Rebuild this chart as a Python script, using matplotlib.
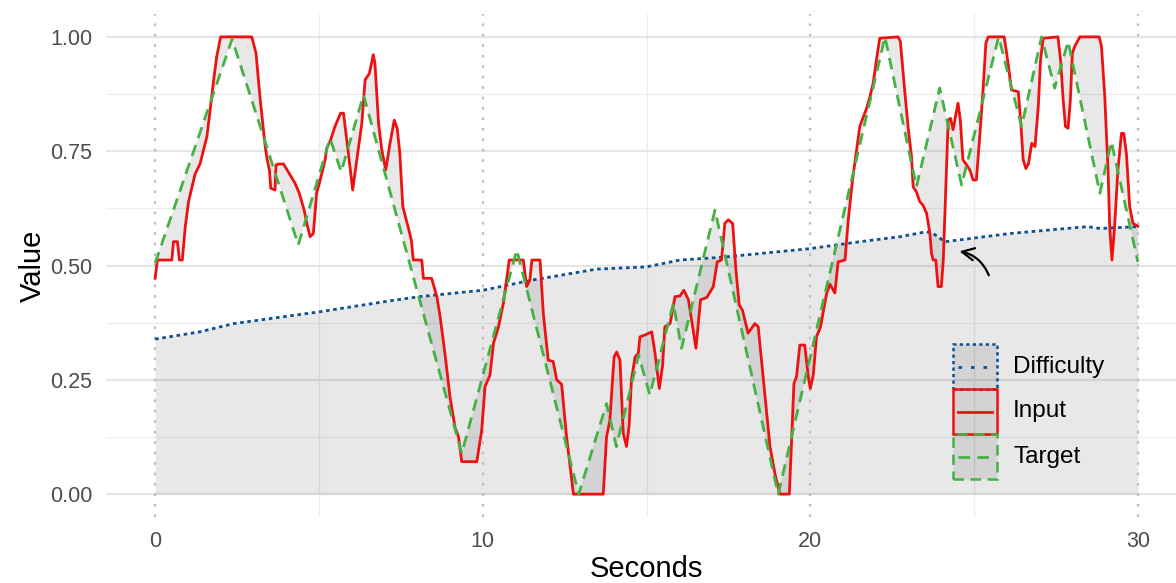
import numpy as np
import matplotlib
matplotlib.use("Agg")
import matplotlib.pyplot as plt
from matplotlib.patches import Rectangle
from matplotlib.lines import Line2D

plt.rcParams["font.family"] = ["Liberation Sans", "DejaVu Sans"]

# ---- data ----
# Target: piecewise linear reference signal
target_x = [0.0, 2.35, 4.37, 5.34, 5.68, 6.36, 9.36, 11.04, 12.93, 13.78,
            14.08, 14.76, 15.1, 15.82, 16.07, 17.09, 19.02, 22.28, 23.24, 23.95,
            24.62, 25.75, 26.45, 27.06, 27.46, 27.87, 28.84, 29.19, 30.0]
target_y = [0.505, 0.995, 0.545, 0.778, 0.705, 0.873, 0.089, 0.534, 0.0, 0.198,
            0.104, 0.304, 0.217, 0.417, 0.319, 0.621, 0.0, 1.0, 0.672, 0.888,
            0.676, 1.0, 0.804, 1.0, 0.888, 0.99, 0.658, 0.771, 0.508]

# Input: recorded response
input_x = [0.0, 0.07, 0.51, 0.56, 0.68, 0.74, 0.83, 0.92, 1.02, 1.22,
           1.37, 1.58, 1.68, 1.78, 1.88, 2.0, 2.95, 3.08, 3.2, 3.36,
           3.41, 3.49, 3.53, 3.66, 3.69, 3.76, 3.92, 4.12, 4.27, 4.4,
           4.55, 4.63, 4.73, 4.83, 4.93, 5.04, 5.19, 5.24, 5.34, 5.49,
           5.66, 5.75, 5.9, 6.03, 6.2, 6.31, 6.41, 6.54, 6.66, 6.71,
           6.82, 6.92, 7.04, 7.17, 7.3, 7.39, 7.47, 7.56, 7.72, 7.82,
           7.88, 8.14, 8.19, 8.44, 8.6, 8.7, 8.86, 9.0, 9.16, 9.26,
           9.36, 9.82, 9.97, 10.07, 10.22, 10.33, 10.48, 10.63, 10.81, 11.24,
           11.34, 11.44, 11.5, 11.75, 11.85, 12.0, 12.15, 12.26, 12.41, 12.56,
           12.77, 13.68, 13.78, 13.88, 14.01, 14.09, 14.19, 14.29, 14.39, 14.47,
           14.54, 14.65, 14.75, 14.8, 14.95, 15.16, 15.26, 15.39, 15.49, 15.56,
           15.72, 15.87, 16.02, 16.14, 16.28, 16.51, 16.65, 16.84, 17.04, 17.16,
           17.29, 17.39, 17.5, 17.63, 17.73, 17.83, 17.93, 18.1, 18.31, 18.41,
           18.77, 18.92, 19.07, 19.36, 19.43, 19.5, 19.58, 19.68, 19.83, 19.94,
           20.0, 20.09, 20.19, 20.31, 20.5, 20.6, 20.75, 20.85, 21.06, 21.16,
           21.29, 21.51, 21.72, 21.82, 21.92, 22.02, 22.12, 22.68, 22.75, 22.88,
           22.99, 23.09, 23.14, 23.24, 23.34, 23.44, 23.55, 23.65, 23.7, 23.75,
           23.83, 23.9, 24.0, 24.06, 24.14, 24.21, 24.28, 24.36, 24.43, 24.51,
           24.58, 24.66, 24.77, 24.87, 24.97, 25.07, 25.18, 25.28, 25.36, 25.43,
           25.92, 26.04, 26.14, 26.35, 26.42, 26.5, 26.58, 26.66, 26.76, 26.86,
           26.96, 27.03, 27.11, 27.56, 27.64, 27.72, 27.79, 27.87, 27.94, 28.0,
           28.07, 28.23, 28.82, 28.89, 28.99, 29.09, 29.14, 29.21, 29.29, 29.39,
           29.5, 29.57, 29.65, 29.75, 29.85, 30.0]
input_y = [0.472, 0.512, 0.512, 0.552, 0.552, 0.512, 0.512, 0.585, 0.64, 0.70,
           0.722, 0.782, 0.84, 0.902, 0.957, 1.0, 1.0, 0.964, 0.869, 0.76,
           0.736, 0.708, 0.669, 0.665, 0.72, 0.722, 0.722, 0.698, 0.68, 0.658,
           0.621, 0.592, 0.563, 0.57, 0.658, 0.687, 0.731, 0.757, 0.771, 0.804,
           0.833, 0.833, 0.745, 0.665, 0.753, 0.811, 0.906, 0.92, 0.961, 0.942,
           0.811, 0.753, 0.709, 0.767, 0.818, 0.80, 0.745, 0.629, 0.585, 0.556,
           0.512, 0.512, 0.472, 0.472, 0.432, 0.388, 0.30, 0.213, 0.144, 0.126,
           0.071, 0.071, 0.14, 0.235, 0.26, 0.33, 0.365, 0.417, 0.512, 0.512,
           0.454, 0.468, 0.512, 0.512, 0.395, 0.293, 0.29, 0.25, 0.24, 0.125,
           0.0, 0.0, 0.125, 0.161, 0.30, 0.311, 0.293, 0.133, 0.104, 0.15,
           0.249, 0.30, 0.308, 0.344, 0.348, 0.355, 0.308, 0.231, 0.28, 0.366,
           0.373, 0.432, 0.433, 0.446, 0.425, 0.319, 0.425, 0.43, 0.454, 0.508,
           0.512, 0.592, 0.60, 0.592, 0.49, 0.414, 0.402, 0.352, 0.373, 0.366,
           0.104, 0.045, 0.0, 0.0, 0.118, 0.242, 0.257, 0.326, 0.326, 0.257,
           0.231, 0.26, 0.344, 0.365, 0.439, 0.459, 0.44, 0.508, 0.512, 0.60,
           0.687, 0.804, 0.844, 0.869, 0.899, 0.95, 0.997, 1.0, 0.99, 0.884,
           0.80, 0.738, 0.672, 0.661, 0.64, 0.632, 0.614, 0.571, 0.527, 0.512,
           0.512, 0.454, 0.454, 0.512, 0.672, 0.818, 0.822, 0.797, 0.825, 0.855,
           0.818, 0.731, 0.72, 0.709, 0.687, 0.687, 0.789, 0.891, 0.986, 1.0,
           1.0, 0.942, 0.884, 0.88, 0.818, 0.731, 0.712, 0.722, 0.767, 0.76,
           0.848, 0.95, 0.997, 1.0, 0.95, 0.862, 0.804, 0.80, 0.862, 0.964,
           0.979, 1.0, 1.0, 0.979, 0.869, 0.709, 0.585, 0.512, 0.585, 0.709,
           0.789, 0.789, 0.745, 0.629, 0.592, 0.586]

# Difficulty: slowly rising level
diff_x = [0.0, 1.37, 2.4, 5.04, 7.28, 8.09, 10.02, 11.5, 13.47, 15.0,
          16.02, 17.3, 20.0, 21.51, 22.74, 23.55, 23.75, 24.11, 26.1, 27.82,
          28.45, 28.85, 30.0]
diff_y = [0.339, 0.355, 0.373, 0.399, 0.424, 0.432, 0.446, 0.468, 0.492, 0.497,
          0.512, 0.518, 0.537, 0.552, 0.563, 0.574, 0.57, 0.552, 0.57, 0.581,
          0.585, 0.581, 0.585]

series_names = ["Difficulty", "Input", "Target"]

assert len(input_x) == len(input_y)
assert len(target_x) == len(target_y)
assert len(diff_x) == len(diff_y)

RED = "#EE1111"
GREEN = "#44B144"
BLUE = "#0B4F96"
SHADE = (0, 0, 0, 0.09)

W, H = 1176, 583
fig = plt.figure(figsize=(W / 100, H / 100), dpi=100)
ax = fig.add_axes([106 / W, 66 / H, 1081 / W, 503 / H])

# shaded areas
ax.fill_between(diff_x, 0, diff_y, color=SHADE, linewidth=0, zorder=1)
# region between input and target: input forward, target backward
ax.fill(np.r_[input_x, target_x[::-1]], np.r_[input_y, target_y[::-1]],
        color=SHADE, linewidth=0, zorder=1)

# marker lines every 10 s
for xv in [0, 10, 20, 30]:
    ax.axvline(xv, color="#BDBDBD", lw=1.6, dashes=(1.2, 3.5), zorder=2)

styles = {
    "Difficulty": dict(color=BLUE, lw=2.0, dashes=(1.3, 1.3)),
    "Input": dict(color=RED, lw=2.0),
    "Target": dict(color=GREEN, lw=2.0, dashes=(4.2, 2.6)),
}

ax.plot(diff_x, diff_y, zorder=3, **styles["Difficulty"])
ax.plot(input_x, input_y, solid_joinstyle="round", zorder=4, **styles["Input"])
ax.plot(target_x, target_y, zorder=5, **styles["Target"])

ax.annotate("", xy=(24.47, 0.532), xytext=(25.48, 0.473),
            arrowprops=dict(arrowstyle="->", connectionstyle="arc3,rad=0.3",
                            color="black", lw=1.6, mutation_scale=22))

ax.set_xlim(-1.5, 31.5)
ax.set_ylim(-0.05, 1.05)
ax.set_xticks([0, 10, 20, 30])
ax.set_xticks([5, 15, 25], minor=True)
ax.set_yticks([0, 0.25, 0.5, 0.75, 1.0])
ax.set_yticklabels(["0.00", "0.25", "0.50", "0.75", "1.00"])
ax.set_yticks([0.125, 0.375, 0.625, 0.875], minor=True)

ax.set_axisbelow(True)
ax.grid(axis="y", which="major", color="#E6E6E6", lw=1.6)
ax.grid(axis="y", which="minor", color="#EEEEEE", lw=0.9)
ax.grid(axis="x", which="minor", color="#EBEBEB", lw=0.9)
for s in ax.spines.values():
    s.set_visible(False)
ax.tick_params(which="both", length=0, labelsize=15.5, labelcolor="#4D4D4D", pad=10)

ax.set_xlabel("Seconds", fontsize=21, labelpad=2)
ax.set_ylabel("Value", fontsize=21, labelpad=2)

# legend keys: shaded box outlined in the series style, line through the middle
key_left, key_top, key_w, key_h = 953, 344, 44, 45
for i, name in enumerate(series_names):
    st = dict(styles[name])
    top = key_top + i * key_h
    y0 = 1 - (top + key_h) / H
    box_ls = "-" if "dashes" not in st else (0, st["dashes"])
    fig.add_artist(Rectangle((key_left / W, y0), key_w / W, key_h / H,
                             transform=fig.transFigure, facecolor=SHADE,
                             edgecolor=st["color"], lw=st["lw"] * 0.9,
                             linestyle=box_ls, zorder=6))
    ymid = 1 - (top + key_h / 2) / H
    line_st = dict(st)
    if name == "Difficulty":
        line_st["dashes"] = (1.3, 3.2)
    fig.add_artist(Line2D([(key_left + 5) / W, (key_left + key_w - 5) / W],
                          [ymid, ymid], transform=fig.transFigure, zorder=7,
                          **line_st))
    fig.text(1013 / W, ymid, name, fontsize=17.5, va="center", ha="left")

fig.savefig("out.png", dpi=100)
